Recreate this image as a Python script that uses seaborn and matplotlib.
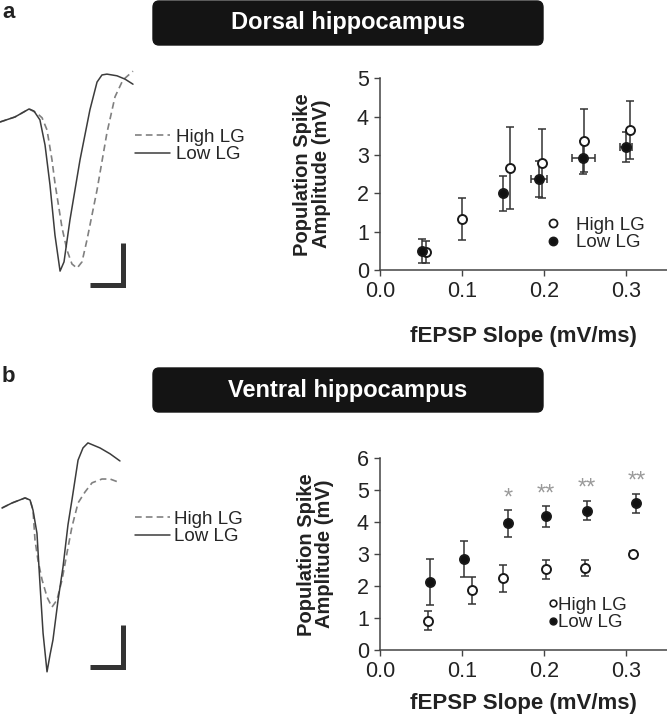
import numpy as np
import pandas as pd
import seaborn as sns
import matplotlib.pyplot as plt
from matplotlib.lines import Line2D
from matplotlib.patches import FancyBboxPatch

# ---- data ----
# dorsal (a)
high_x_dor = [0.056, 0.100, 0.159, 0.197, 0.249, 0.305]
high_y_dor = [0.47, 1.33, 2.65, 2.78, 3.37, 3.65]
high_err_dor = [0.28, 0.55, 1.07, 0.90, 0.82, 0.76]
low_x_dor = [0.051, 0.150, 0.194, 0.248, 0.300]
low_y_dor = [0.50, 2.00, 2.37, 2.93, 3.20]
low_err_dor = [0.32, 0.45, 0.47, 0.43, 0.39]
low_xerr_dor = [0.0, 0.0, 0.010, 0.014, 0.007]

# ventral (b)
high_x_ven = [0.058, 0.112, 0.150, 0.202, 0.250, 0.309]
high_y_ven = [0.92, 1.87, 2.24, 2.53, 2.56, 3.01]
high_err_ven = [0.29, 0.43, 0.43, 0.30, 0.25, 0.08]
low_x_ven = [0.061, 0.103, 0.156, 0.202, 0.252, 0.312]
low_y_ven = [2.14, 2.85, 3.97, 4.18, 4.36, 4.59]
low_err_ven = [0.72, 0.56, 0.42, 0.33, 0.29, 0.30]
star_x = [0.156, 0.202, 0.252, 0.313]
star_y = [4.96, 5.09, 5.27, 5.51]
star_txt = ['*', '**', '**', '**']

# example traces (ms, mV)
dor_low_t = [0, 0.91, 1.76, 2.06, 2.42, 2.73, 3.03, 3.33, 3.64, 3.88, 4.24, 4.85, 5.45, 5.88, 6.18, 6.48, 7.09, 7.58, 8.06]
dor_low_v = [0, 0.12, 0.31, 0.26, 0.05, -0.55, -1.50, -2.69, -3.55, -3.33, -2.33, -0.90, 0.29, 0.95, 1.12, 1.14, 1.10, 1.02, 0.90]
dor_high_t = [0, 0.91, 1.76, 2.24, 2.55, 2.85, 3.15, 3.33, 3.76, 4.06, 4.36, 4.67, 4.97, 5.27, 5.88, 6.48, 6.97, 7.45, 8.06]
dor_high_v = [0, 0.12, 0.31, 0.21, 0.10, -0.19, -0.90, -1.45, -2.52, -3.05, -3.38, -3.48, -3.33, -2.81, -1.62, -0.26, 0.60, 1.00, 1.21]
ven_low_t = [0.12, 0.73, 1.52, 1.82, 2.00, 2.24, 2.42, 2.61, 2.85, 3.03, 3.21, 3.52, 3.82, 4.12, 4.36, 4.73, 5.03, 5.33, 6.06, 6.67, 7.27]
ven_low_v = [0, 0.12, 0.24, 0.19, -0.05, -0.60, -1.79, -2.98, -3.90, -3.50, -3.14, -2.19, -1.40, -0.40, 0.19, 1.14, 1.43, 1.55, 1.43, 1.29, 1.12]
ven_high_t = [0.12, 0.73, 1.52, 1.82, 2.00, 2.12, 2.30, 2.55, 2.85, 3.15, 3.45, 3.76, 4.06, 4.36, 4.73, 5.15, 5.58, 6.18, 6.67, 7.15]
ven_high_v = [0, 0.12, 0.24, 0.19, -0.05, -0.76, -1.24, -1.71, -2.12, -2.36, -2.19, -1.71, -1.07, -0.45, 0.12, 0.38, 0.60, 0.69, 0.69, 0.62]

sns.set_style('ticks')
plt.rcParams['font.family'] = ['Liberation Sans', 'DejaVu Sans']

W, H = 667, 720
fig = plt.figure(figsize=(W / 100, H / 100), dpi=100)


def fx(px):
    return px / W


def fy(py):
    return 1 - py / H


def make_df(hx, hy, he, lx, ly, le, lxe=None):
    high = pd.DataFrame({'slope': hx, 'amp': hy, 'err': he, 'xerr': 0.0, 'group': 'High LG'})
    low = pd.DataFrame({'slope': lx, 'amp': ly, 'err': le,
                        'xerr': lxe if lxe is not None else 0.0, 'group': 'Low LG'})
    return pd.concat([high, low], ignore_index=True)


def scatter_panel(ax, df, ymax, xlab_y, ylab_x):
    for grp, face in [('High LG', 'white'), ('Low LG', '#111111')]:
        d = df[df.group == grp]
        ax.errorbar(d.slope, d.amp, yerr=d.err, xerr=d.xerr, fmt='none', ecolor='#333333',
                    elinewidth=1.1, capsize=3.2, capthick=1.1, zorder=2)
        sns.scatterplot(data=d, x='slope', y='amp', ax=ax, color=face, edgecolor='#1a1a1a',
                        linewidth=1.4, s=42, zorder=3, legend=False)
    ax.set_xlim(0, 0.35)
    ax.set_ylim(0, ymax)
    ax.set_xticks([0, 0.1, 0.2, 0.3])
    ax.set_xticklabels(['0.0', '0.1', '0.2', '0.3'])
    ax.set_yticks(range(0, ymax + 1))
    sns.despine(ax=ax)
    for s in ['left', 'bottom']:
        ax.spines[s].set_color('#444444')
        ax.spines[s].set_linewidth(1.1)
    ax.tick_params(axis='both', labelsize=15.5, length=4, width=1.0, color='#444444',
                   labelcolor='#222222', pad=4)
    ax.set_xlabel('fEPSP Slope (mV/ms)', fontsize=16, fontweight='bold', color='#222222', va='center')
    ax.set_ylabel('Population Spike\nAmplitude (mV)', fontsize=14.5, fontweight='bold',
                  color='#222222', va='center', linespacing=0.95)
    ax.xaxis.set_label_coords(0.5, xlab_y)
    ax.yaxis.set_label_coords(ylab_x, 0.5)
    ax.set_facecolor('none')


def trace_panel(ax, low_t, low_v, high_t, high_v, corner):
    ax.plot(high_t, high_v, color='#808080', lw=1.2, ls=(0, (4, 2.5)))
    ax.plot(low_t, low_v, color='#3c3c3c', lw=1.1)
    # scale bar: 2 ms x 1 mV
    ct, cv = corner
    ax.plot([ct - 2, ct, ct], [cv, cv, cv + 1], color='#333333', lw=3.6,
            solid_joinstyle='miter', solid_capstyle='butt')
    ax.axis('off')


# ---- panel a ----
ax_a = fig.add_axes([fx(380), fy(270), fx(287), (270 - 78.3) / H])
df_a = make_df(high_x_dor, high_y_dor, high_err_dor, low_x_dor, low_y_dor, low_err_dor, low_xerr_dor)
scatter_panel(ax_a, df_a, 5, -0.345, -0.237)

leg_h = [Line2D([], [], marker='o', ls='none', mfc='white', mec='#1a1a1a', mew=1.3, ms=5.8),
         Line2D([], [], marker='o', ls='none', mfc='#111111', mec='#1a1a1a', mew=1.3, ms=5.8)]
fig.legend(leg_h, ['High LG', 'Low LG'], loc='center left', bbox_to_anchor=(fx(544), fy(234)),
           frameon=False, fontsize=13.5, handlelength=1.0, handletextpad=0.7,
           labelspacing=0.0, borderpad=0, borderaxespad=0)

tr_a = fig.add_axes([0, fy(290), fx(140), 230 / H])
tr_a.set_xlim(0, 140 / 16.5)
tr_a.set_ylim(-4.0, 1.476)
trace_panel(tr_a, dor_low_t, dor_low_v, dor_high_t, dor_high_v, (7.45, -3.88))
tr_leg = [Line2D([], [], color='#808080', lw=1.2, ls=(0, (4, 2.5))),
          Line2D([], [], color='#3c3c3c', lw=1.1)]
fig.legend(tr_leg, ['High LG', 'Low LG'], loc='center left', bbox_to_anchor=(fx(135), fy(146)),
           frameon=False, fontsize=13.5, handlelength=1.85, handletextpad=0.35,
           labelspacing=0.0, borderpad=0, borderaxespad=0)

# ---- panel b ----
ax_b = fig.add_axes([fx(380), fy(650), fx(287), (650 - 458.3) / H])
df_b = make_df(high_x_ven, high_y_ven, high_err_ven, low_x_ven, low_y_ven, low_err_ven)
scatter_panel(ax_b, df_b, 6, -0.28, -0.226)
for sx, sy, st in zip(star_x, star_y, star_txt):
    ax_b.annotate(st, (sx, sy), xytext=(0, -9.5), textcoords='offset points', ha='center',
                  va='baseline', fontsize=17, color='#9a9a9a')

leg_hb = [Line2D([], [], marker='o', ls='none', mfc='white', mec='#1a1a1a', mew=1.2, ms=4.8),
          Line2D([], [], marker='o', ls='none', mfc='#111111', mec='#1a1a1a', mew=1.2, ms=4.8)]
fig.legend(leg_hb, ['High LG', 'Low LG'], loc='center left', bbox_to_anchor=(fx(548), fy(614)),
           frameon=False, fontsize=13.5, handlelength=0.5, handletextpad=0.05,
           labelspacing=0.0, borderpad=0, borderaxespad=0)

tr_b = fig.add_axes([0, fy(690), fx(140), 260 / H])
tr_b.set_xlim(0, 140 / 16.5)
tr_b.set_ylim(-4.333, 1.857)
trace_panel(tr_b, ven_low_t, ven_low_v, ven_high_t, ven_high_v, (7.45, -3.79))
fig.legend(tr_leg, ['High LG', 'Low LG'], loc='center left', bbox_to_anchor=(fx(135), fy(528)),
           frameon=False, fontsize=13.5, handlelength=1.85, handletextpad=0.25,
           labelspacing=0.0, borderpad=0, borderaxespad=0)

# ---- headers ----
for top, title in [(1, 'Dorsal hippocampus'), (368, 'Ventral hippocampus')]:
    box = FancyBboxPatch((fx(153), fy(top + 44)), fx(390), 44 / H,
                         boxstyle='round,pad=0,rounding_size=0.009', transform=fig.transFigure,
                         fc='#141414', ec='#141414', lw=1)
    fig.patches.append(box)
    fig.text(fx(348), fy(top + 22), title, ha='center', va='center', color='white',
             fontsize=17, fontweight='bold')

fig.text(fx(2), fy(13), 'a', ha='left', va='center', fontsize=16, fontweight='bold', color='#222222')
fig.text(fx(2), fy(376), 'b', ha='left', va='center', fontsize=16, fontweight='bold', color='#222222')

fig.savefig('out.png', dpi=100)
